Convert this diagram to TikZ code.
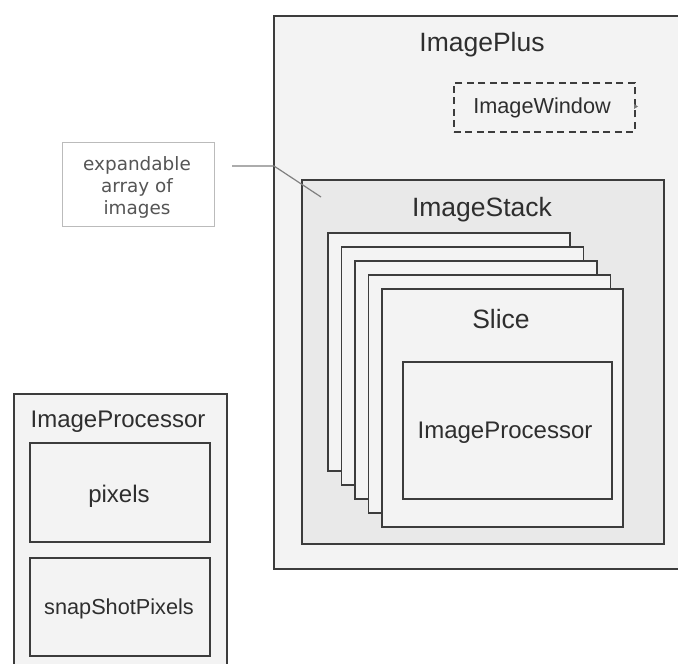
\documentclass[tikz,border=0pt]{standalone}
\usepackage{fontspec}
\setmainfont{Liberation Sans}
\newfontfamily\calloutfont{DejaVu Sans}
\definecolor{linec}{HTML}{3C3C3C}
\definecolor{txtc}{HTML}{2E2E2E}
\definecolor{fillA}{HTML}{F3F3F3}
\definecolor{fillB}{HTML}{E9E9E9}
\definecolor{callc}{HTML}{BBBBBB}
\definecolor{calltxt}{HTML}{555555}
\tikzset{
  box/.style={draw=linec, line width=1.8bp, rectangle, inner sep=0pt, anchor=north west},
  pagebox/.style={box, fill=fillA, minimum width=242bp, minimum height=238bp},
  lbl/.style={text=txtc, inner sep=0pt, anchor=center},
  bigl/.style={lbl, font=\fontsize{26.5bp}{30bp}\selectfont},
  midl/.style={lbl, font=\fontsize{24bp}{28bp}\selectfont},
  smal/.style={lbl, font=\fontsize{21.7bp}{25bp}\selectfont},
}
\begin{document}
\begin{tikzpicture}[x=1bp,y=-1bp]
\useasboundingbox (0,0) rectangle (678,664);
\fill[white] (0,0) rectangle (678,664);
\begin{scope}
\clip (0,0) rectangle (678,664);
% ImagePlus
\node[box, fill=fillA, minimum width=430bp, minimum height=553bp] (plus) at (273,15) {};
\node[bigl] (plusl) at (482,45) {ImagePlus};
% ImageWindow
\node[box, dash pattern=on 7bp off 4.5bp, minimum width=181bp, minimum height=49bp] (win) at (453,82) {};
\node[smal] (winl) at (542,108) {ImageWindow};
\fill[linec!70] (634,104) -- (638,106.5) -- (634,109) -- cycle;
% ImageStack
\node[box, fill=fillB, minimum width=362bp, minimum height=364bp] (stack) at (301,179) {};
\node[bigl] (stackl) at (482,210) {ImageStack};
% pages
\node[pagebox] (p1) at (327,232) {};
\node[pagebox] (p2) at (340.5,246) {};
\node[pagebox] (p3) at (354,260) {};
\node[pagebox] (p4) at (367.5,274) {};
\node[pagebox, minimum width=241bp] (slice) at (381,288) {};
\node[bigl] (slicel) at (501,319) {Slice};
\node[box, minimum width=209bp, minimum height=137bp] (ip) at (402,361) {};
\node[midl] (ipl) at (505,433) {ImageProcessor};
% left ImageProcessor
\node[box, fill=fillA, minimum width=213bp, minimum height=300bp] (lip) at (13,393) {};
\node[midl] (lipl) at (118,422) {ImageProcessor};
\node[box, minimum width=180bp, minimum height=99bp] (pix) at (29,442) {};
\node[midl] (pixl) at (119,496) {pixels};
\node[box, minimum width=180bp, minimum height=98bp] (snap) at (29,557) {};
\node[smal] (snapl) at (119,609) {snapShotPixels};
% callout
\node[draw=callc, fill=white, line width=1.2bp, minimum width=152bp, minimum height=84bp, inner sep=0pt, anchor=north west] (call) at (62,142) {};
\node[text=calltxt, align=center, font=\calloutfont\fontsize{18.4bp}{22bp}\selectfont, inner sep=0pt] (calll) at (137,187) {expandable\\array of\\images};
\coordinate (bend) at (274,166);
\coordinate (tip) at (321,197);
\draw[draw=linec!65, line width=1.2bp] ([xshift=17bp]call.east |- bend) -- (bend) -- (tip);
\end{scope}
\end{tikzpicture}
\end{document}
